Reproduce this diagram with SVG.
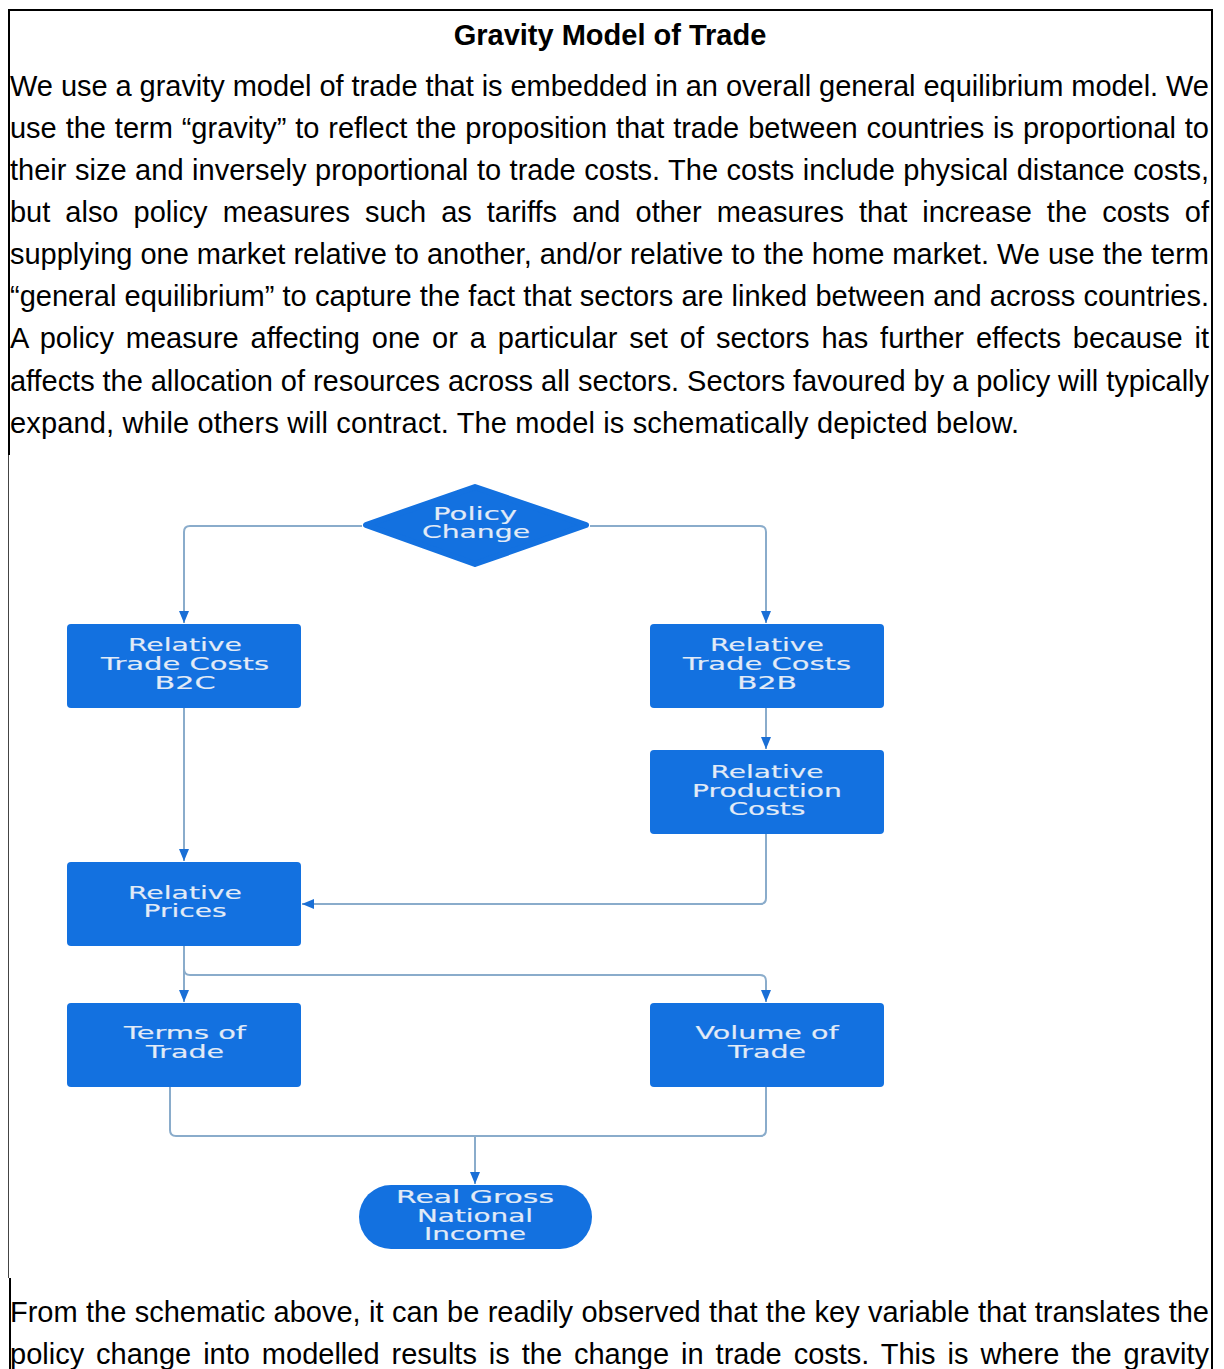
<svg xmlns="http://www.w3.org/2000/svg" width="1224" height="1369" viewBox="0 0 1224 1369">
<style>
.body{font-family:"Liberation Sans",Arial,sans-serif;font-size:29px;fill:#000}
.title{font-family:"Liberation Sans",Arial,sans-serif;font-size:29px;font-weight:bold;fill:#000}
.node{fill:#1371e0}
.lbl{font-family:"DejaVu Sans",Verdana,sans-serif;font-size:17px;fill:#e2ebf7;stroke:#e2ebf7;stroke-width:0.15;text-anchor:middle}
.conn{fill:none;stroke:#8aaccb;stroke-width:2;stroke-linejoin:round}
</style>
<defs>
<marker id="arr" viewBox="0 0 12 10" refX="12" refY="5" markerWidth="12" markerHeight="10" markerUnits="userSpaceOnUse" orient="auto">
<path d="M0,0 L12,5 L0,10 Z" fill="#1a6fd6"/>
</marker>
</defs>
<rect width="1224" height="1369" fill="#ffffff"/>
<g id="frame" stroke="#000" fill="none">
<line x1="8" y1="10" x2="1213" y2="10" stroke-width="2"/>
<line x1="9" y1="9" x2="9" y2="455" stroke-width="2"/>
<line x1="8.5" y1="455" x2="8.5" y2="1278" stroke-width="1" stroke="#444"/>
<line x1="10" y1="1278" x2="10" y2="1369" stroke-width="2"/>
<line x1="1212" y1="9" x2="1212" y2="1369" stroke-width="2"/>
</g>
<g id="text">
<text class="title" x="610" y="45" text-anchor="middle">Gravity Model of Trade</text>
<text class="body" x="10" y="96" textLength="1199" lengthAdjust="spacing">We use a gravity model of trade that is embedded in an overall general equilibrium model. We</text>
<text class="body" x="10" y="138" textLength="1199" lengthAdjust="spacing" word-spacing="0.9">use the term “gravity” to reflect the proposition that trade between countries is proportional to</text>
<text class="body" x="10" y="180" textLength="1199" lengthAdjust="spacing" word-spacing="0.5">their size and inversely proportional to trade costs. The costs include physical distance costs,</text>
<text class="body" x="10" y="222" textLength="1199" lengthAdjust="spacing" word-spacing="7">but also policy measures such as tariffs and other measures that increase the costs of</text>
<text class="body" x="10" y="264" textLength="1199" lengthAdjust="spacing">supplying one market relative to another, and/or relative to the home market. We use the term</text>
<text class="body" x="10" y="306" textLength="1199" lengthAdjust="spacing" word-spacing="0.2">“general equilibrium” to capture the fact that sectors are linked between and across countries.</text>
<text class="body" x="10" y="348" textLength="1199" lengthAdjust="spacing" word-spacing="3.8">A policy measure affecting one or a particular set of sectors has further effects because it</text>
<text class="body" x="10" y="391" textLength="1199" lengthAdjust="spacing">affects the allocation of resources across all sectors. Sectors favoured by a policy will typically</text>
<text class="body" x="10" y="433" textLength="1009" lengthAdjust="spacing">expand, while others will contract. The model is schematically depicted below.</text>
<text class="body" x="10" y="1322" textLength="1199" lengthAdjust="spacing" word-spacing="0.4">From the schematic above, it can be readily observed that the key variable that translates the</text>
<text class="body" x="10" y="1364" textLength="1199" lengthAdjust="spacing" word-spacing="3.9">policy change into modelled results is the change in trade costs. This is where the gravity</text>
</g>
<g id="connectors">
<path class="conn" d="M362,526 L190,526 Q184,526 184,532 L184,623" marker-end="url(#arr)"/>
<path class="conn" d="M590,526 L760,526 Q766,526 766,532 L766,623" marker-end="url(#arr)"/>
<path class="conn" d="M766,708 L766,749" marker-end="url(#arr)"/>
<path class="conn" d="M184,708 L184,861" marker-end="url(#arr)"/>
<path class="conn" d="M766,834 L766,898 Q766,904 760,904 L302,904" marker-end="url(#arr)"/>
<path class="conn" d="M184,946 L184,1002" marker-end="url(#arr)"/>
<path class="conn" d="M184,969 Q184,975 190,975 L760,975 Q766,975 766,981 L766,1002" marker-end="url(#arr)"/>
<path class="conn" d="M170,1087 L170,1130 Q170,1136 176,1136 L760,1136 Q766,1136 766,1130 L766,1087"/>
<path class="conn" d="M475,1136 L475,1184" marker-end="url(#arr)"/>
</g>
<g id="policy-change">
<polygon class="node" points="366,525 475,487 586,525 475,564" stroke="#1371e0" stroke-width="6" stroke-linejoin="round"/>
<text class="lbl" x="475" y="520" textLength="84" lengthAdjust="spacingAndGlyphs">Policy</text>
<text class="lbl" x="476" y="538" textLength="108" lengthAdjust="spacingAndGlyphs">Change</text>
</g>
<g id="trade-costs-b2c">
<rect class="node" x="67" y="624" width="234" height="84" rx="4"/>
<text class="lbl" x="185" y="651" textLength="114" lengthAdjust="spacingAndGlyphs">Relative</text>
<text class="lbl" x="185" y="670" textLength="168" lengthAdjust="spacingAndGlyphs">Trade Costs</text>
<text class="lbl" x="185" y="689" textLength="61" lengthAdjust="spacingAndGlyphs">B2C</text>
</g>
<g id="trade-costs-b2b">
<rect class="node" x="650" y="624" width="234" height="84" rx="4"/>
<text class="lbl" x="767" y="651" textLength="114" lengthAdjust="spacingAndGlyphs">Relative</text>
<text class="lbl" x="767" y="670" textLength="168" lengthAdjust="spacingAndGlyphs">Trade Costs</text>
<text class="lbl" x="767" y="689" textLength="60" lengthAdjust="spacingAndGlyphs">B2B</text>
</g>
<g id="production-costs">
<rect class="node" x="650" y="750" width="234" height="84" rx="4"/>
<text class="lbl" x="767" y="778" textLength="113" lengthAdjust="spacingAndGlyphs">Relative</text>
<text class="lbl" x="767" y="797" textLength="150" lengthAdjust="spacingAndGlyphs">Production</text>
<text class="lbl" x="767" y="815" textLength="77" lengthAdjust="spacingAndGlyphs">Costs</text>
</g>
<g id="relative-prices">
<rect class="node" x="67" y="862" width="234" height="84" rx="4"/>
<text class="lbl" x="185" y="899" textLength="114" lengthAdjust="spacingAndGlyphs">Relative</text>
<text class="lbl" x="185" y="917" textLength="83" lengthAdjust="spacingAndGlyphs">Prices</text>
</g>
<g id="terms-of-trade">
<rect class="node" x="67" y="1003" width="234" height="84" rx="4"/>
<text class="lbl" x="185" y="1039" textLength="122" lengthAdjust="spacingAndGlyphs">Terms of</text>
<text class="lbl" x="185" y="1058" textLength="78" lengthAdjust="spacingAndGlyphs">Trade</text>
</g>
<g id="volume-of-trade">
<rect class="node" x="650" y="1003" width="234" height="84" rx="4"/>
<text class="lbl" x="767" y="1039" textLength="143" lengthAdjust="spacingAndGlyphs">Volume of</text>
<text class="lbl" x="767" y="1058" textLength="78" lengthAdjust="spacingAndGlyphs">Trade</text>
</g>
<g id="real-gni">
<rect class="node" x="359" y="1185" width="233" height="64" rx="32"/>
<text class="lbl" x="475" y="1203" textLength="158" lengthAdjust="spacingAndGlyphs">Real Gross</text>
<text class="lbl" x="475" y="1222" textLength="116" lengthAdjust="spacingAndGlyphs">National</text>
<text class="lbl" x="475" y="1240" textLength="102" lengthAdjust="spacingAndGlyphs">Income</text>
</g>
</svg>
